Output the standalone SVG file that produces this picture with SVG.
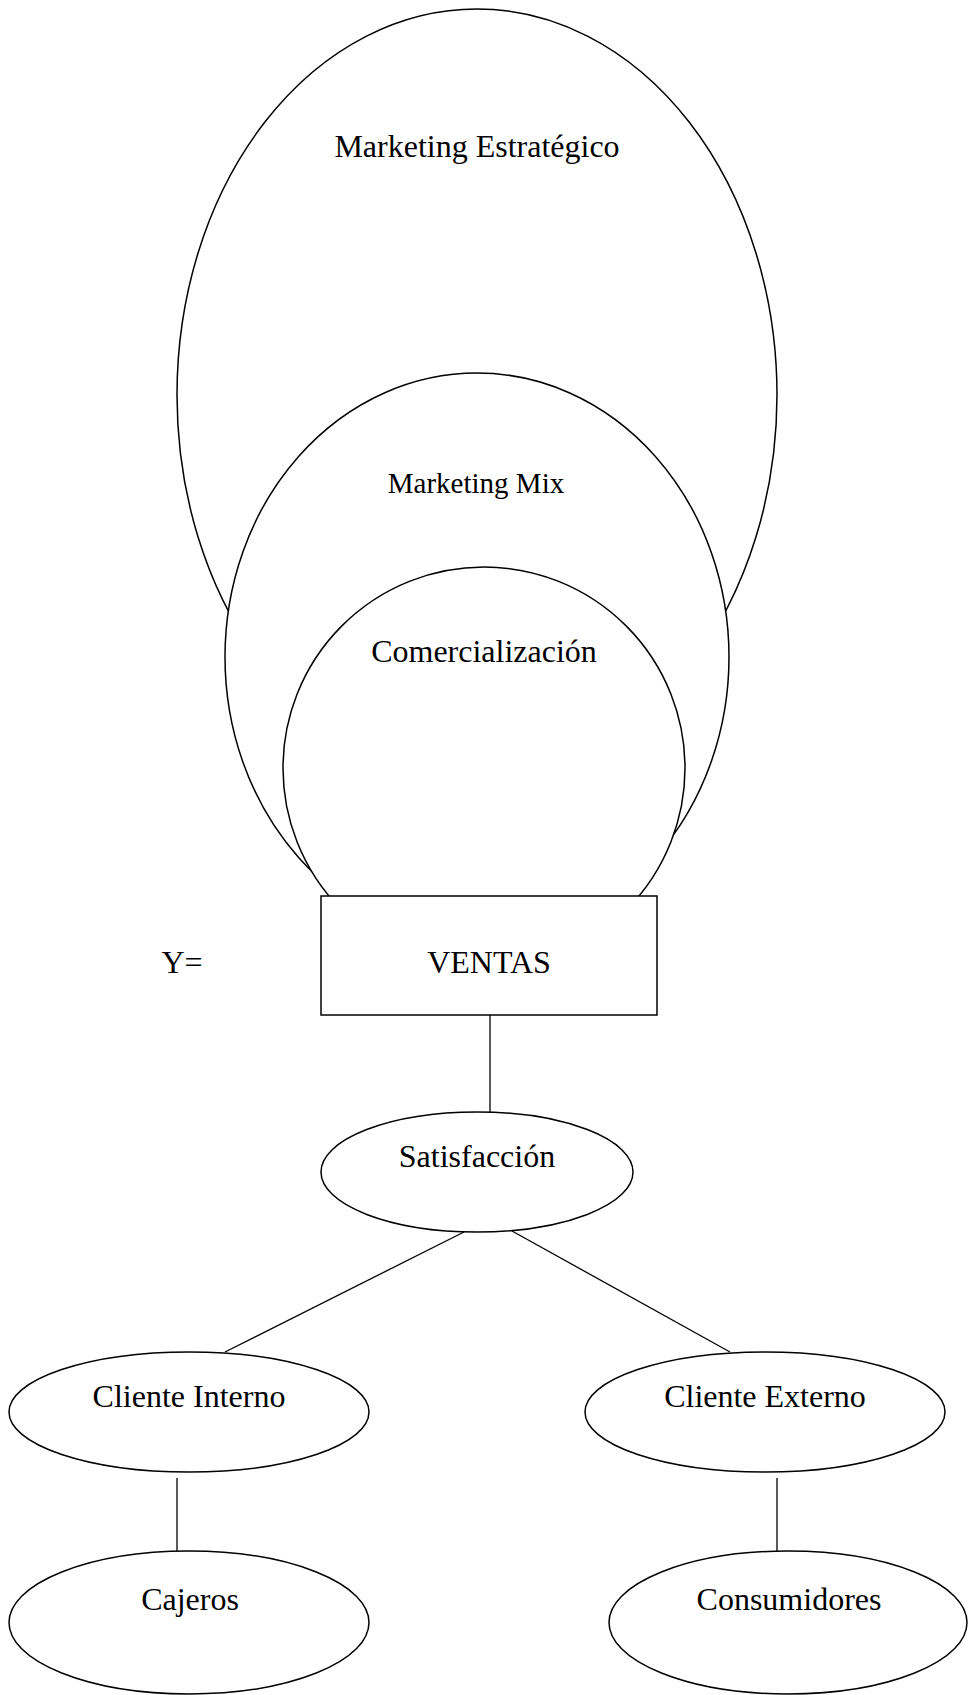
<svg xmlns="http://www.w3.org/2000/svg" width="968" height="1695" viewBox="0 0 968 1695">
  <style>
    .shape { fill: #ffffff; stroke: #000000; stroke-width: 1.5; }
    .link { stroke: #000000; stroke-width: 1.3; fill: none; }
    .label { font-family: "Liberation Serif", "Times New Roman", serif; font-size: 32px; fill: #000000; text-anchor: middle; }
  </style>
  <rect x="0" y="0" width="968" height="1695" fill="#ffffff"/>

  <!-- nested marketing layers -->
  <g id="marketing-estrategico">
    <ellipse class="shape" cx="477" cy="395" rx="300" ry="386"/>
    <text class="label" x="477" y="157">Marketing Estratégico</text>
  </g>
  <g id="marketing-mix">
    <ellipse class="shape" cx="477" cy="657" rx="252" ry="284"/>
    <text class="label" x="476" y="493" style="font-size:29px">Marketing Mix</text>
  </g>
  <g id="comercializacion">
    <circle class="shape" cx="484" cy="768" r="201"/>
    <text class="label" x="484" y="662">Comercialización</text>
  </g>
  <g id="ventas">
    <rect class="shape" x="321" y="896" width="336" height="119"/>
    <text class="label" x="489" y="973">VENTAS</text>
  </g>
  <g id="y-label">
    <text class="label" x="182" y="973">Y=</text>
  </g>

  <!-- connectors -->
  <g id="connectors">
    <line class="link" x1="490" y1="1015" x2="490" y2="1112"/>
    <line class="link" x1="464" y1="1232" x2="225" y2="1352"/>
    <line class="link" x1="512" y1="1231" x2="730" y2="1352"/>
    <line class="link" x1="177" y1="1478" x2="177" y2="1551"/>
    <line class="link" x1="777" y1="1478" x2="777" y2="1551"/>
  </g>

  <g id="satisfaccion">
    <ellipse class="shape" cx="477" cy="1172" rx="156" ry="60"/>
    <text class="label" x="477" y="1167">Satisfacción</text>
  </g>
  <g id="cliente-interno">
    <ellipse class="shape" cx="189" cy="1412" rx="180" ry="60"/>
    <text class="label" x="189" y="1407">Cliente Interno</text>
  </g>
  <g id="cliente-externo">
    <ellipse class="shape" cx="765" cy="1412" rx="180" ry="60"/>
    <text class="label" x="765" y="1407">Cliente Externo</text>
  </g>
  <g id="cajeros">
    <ellipse class="shape" cx="189" cy="1622.5" rx="180" ry="71.5"/>
    <text class="label" x="190" y="1610">Cajeros</text>
  </g>
  <g id="consumidores">
    <ellipse class="shape" cx="788" cy="1622.5" rx="179" ry="71.5"/>
    <text class="label" x="789" y="1610">Consumidores</text>
  </g>
</svg>
